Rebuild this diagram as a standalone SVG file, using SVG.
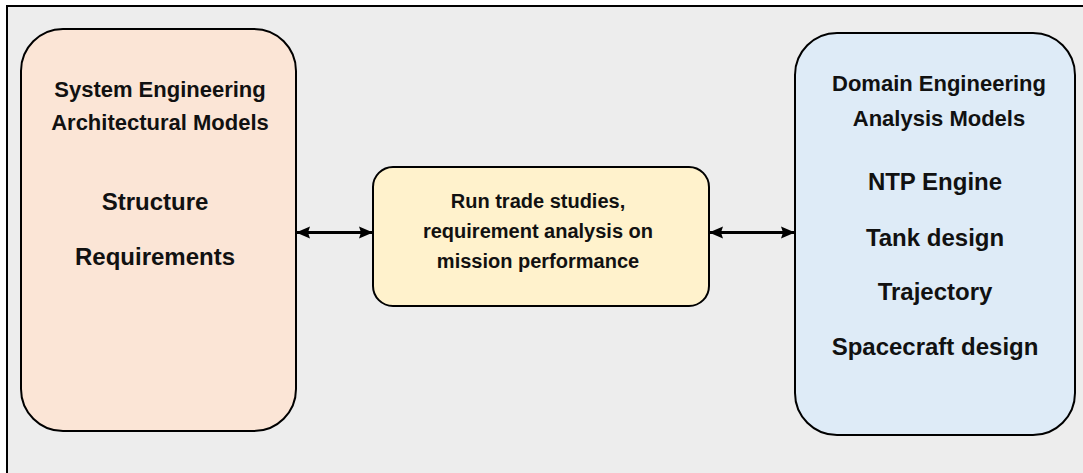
<svg xmlns="http://www.w3.org/2000/svg" width="1083" height="473" viewBox="0 0 1083 473">
  <style>
    .node { stroke: #000; stroke-width: 2; }
    .t { font-family: "Liberation Sans", Arial, sans-serif; font-weight: bold; fill: #111; text-anchor: middle; }
    .title { font-size: 22px; }
    .item { font-size: 24px; }
    .mid { font-size: 20px; }
    .conn { stroke: #000; stroke-width: 3; fill: none; marker-start: url(#head-start); marker-end: url(#head-end); }
  </style>
  <defs>
    <marker id="head-end" markerUnits="userSpaceOnUse" viewBox="0 0 14 14" markerWidth="14" markerHeight="14" refX="13" refY="7" orient="auto">
      <path d="M0,1 L14,7 L0,13 L2,7 z" fill="#000"/>
    </marker>
    <marker id="head-start" markerUnits="userSpaceOnUse" viewBox="0 0 14 14" markerWidth="14" markerHeight="14" refX="1" refY="7" orient="auto">
      <path d="M14,1 L0,7 L14,13 L12,7 z" fill="#000"/>
    </marker>
  </defs>

  <!-- page -->
  <rect x="0" y="0" width="1083" height="473" fill="#fff"/>
  <rect x="7" y="6" width="1090" height="480" fill="#ededed" stroke="#000" stroke-width="2"/>

  <g id="connectors">
    <line class="conn" x1="297" y1="232.5" x2="372" y2="232.5"/>
    <line class="conn" x1="710" y1="232.5" x2="794" y2="232.5"/>
  </g>

  <g id="system-engineering">
    <rect class="node" x="21" y="29" width="275" height="402" rx="42" fill="#fbe5d6"/>
    <text class="t title" x="160" y="97">System Engineering</text>
    <text class="t title" x="160" y="130">Architectural Models</text>
    <text class="t item" x="155" y="210">Structure</text>
    <text class="t item" x="155" y="265">Requirements</text>
  </g>

  <g id="trade-studies">
    <rect class="node" x="373" y="167" width="336" height="139" rx="20" fill="#fff2cc"/>
    <text class="t mid" x="538" y="208">Run trade studies,</text>
    <text class="t mid" x="538" y="238">requirement analysis on</text>
    <text class="t mid" x="538" y="268">mission performance</text>
  </g>

  <g id="domain-engineering">
    <rect class="node" x="795" y="33" width="280" height="402" rx="42" fill="#deebf7"/>
    <text class="t title" x="939" y="91">Domain Engineering</text>
    <text class="t title" x="939" y="126">Analysis Models</text>
    <text class="t item" x="935" y="190">NTP Engine</text>
    <text class="t item" x="935" y="246">Tank design</text>
    <text class="t item" x="935" y="300">Trajectory</text>
    <text class="t item" x="935" y="355">Spacecraft design</text>
  </g>
</svg>
